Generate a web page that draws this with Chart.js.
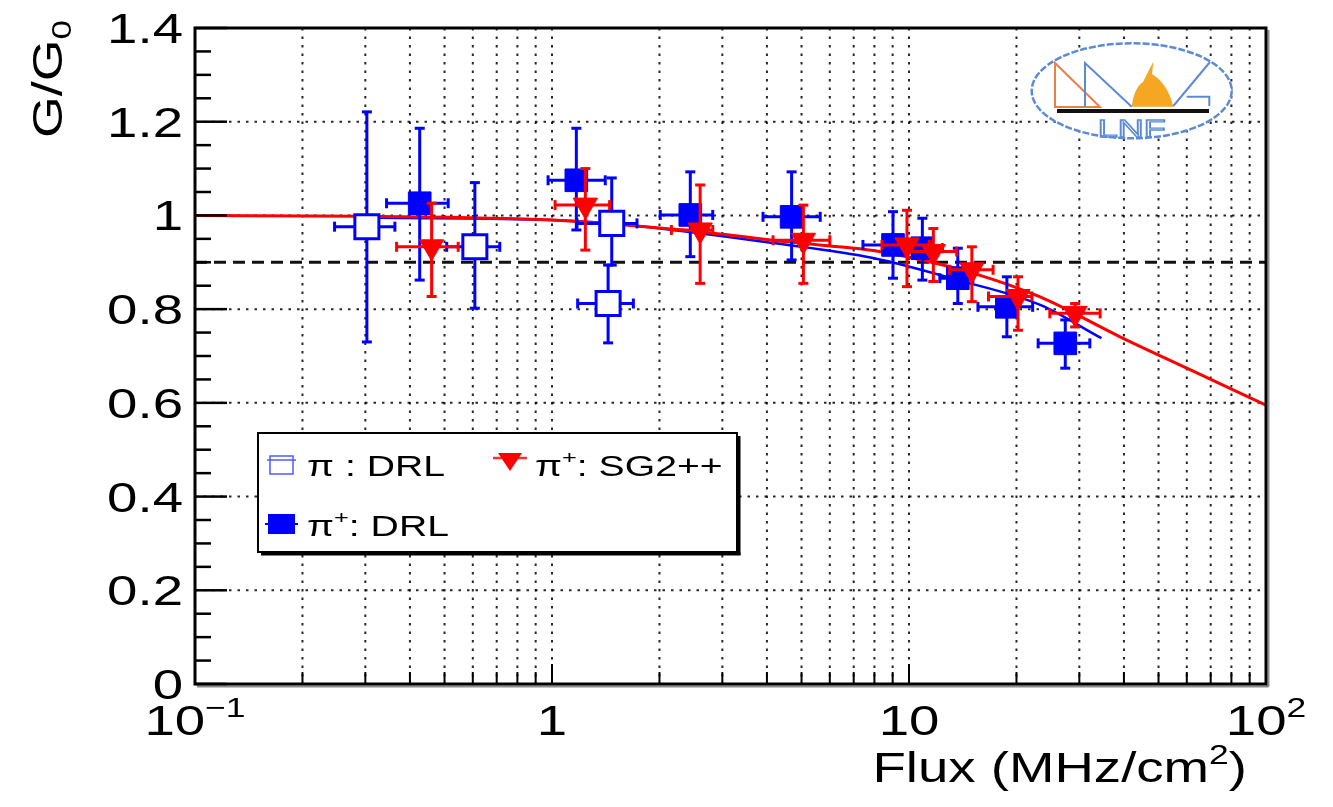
<!DOCTYPE html>
<html><head><meta charset="utf-8">
<script src="https://cdn.jsdelivr.net/npm/chart.js@4.4.1/dist/chart.umd.min.js"></script>
<style>html,body{margin:0;padding:0;background:#fff;}canvas{display:block;}</style>
</head><body>
<canvas id="c" width="1333" height="807"></canvas>
<script>
// ---- data ----
const openX   = [0.303, 0.608, 1.47, 1.436];
const openY   = [0.976, 0.933, 0.983, 0.812];
const openYlo = [0.730, 0.802, 0.894, 0.728];
const openYhi = [1.221, 1.070, 1.080, 0.894];
const openXlo = [0.246, 0.507, 1.175, 1.18];
const openXhi = [0.363, 0.714, 1.73, 1.69];

const filledX   = [0.426, 1.17, 2.44, 4.69, 9.02, 10.9, 13.7, 18.8, 27.4];
const filledY   = [1.026, 1.075, 1.001, 0.997, 0.937, 0.930, 0.866, 0.805, 0.727];
const filledYlo = [0.862, 0.969, 0.912, 0.905, 0.866, 0.862, 0.812, 0.741, 0.674];
const filledYhi = [1.186, 1.186, 1.093, 1.093, 1.008, 0.994, 0.930, 0.869, 0.777];
const filledXlo = [0.344, 0.975, 2.01, 3.90, 7.43, 9.6, 12.2, 15.6, 23.0];
const filledXhi = [0.512, 1.41, 2.82, 5.64, 11.5, 12.4, 15.1, 22.2, 32.1];

const redX   = [0.46, 1.24, 2.6, 5.06, 9.87, 11.7, 15.0, 20.2, 29.2];
const redY   = [0.933, 1.022, 0.969, 0.947, 0.937, 0.923, 0.884, 0.827, 0.791];
const redYlo = [0.827, 0.926, 0.855, 0.855, 0.848, 0.859, 0.816, 0.755, 0.762];
const redYhi = [1.026, 1.100, 1.065, 1.022, 1.011, 0.972, 0.933, 0.869, 0.812];
const redXlo = [0.367, 1.02, 2.16, 4.16, 8.4, 9.87, 13.0, 16.7, 24.8];
const redXhi = [0.546, 1.45, 2.82, 6.0, 11.4, 13.6, 17.2, 22.1, 34.3];

const fitRedX = [0.1, 0.3, 1, 1.76, 3, 4.16, 6, 7.93, 9.86, 15.1, 23.3, 39, 60, 100];
const fitRedY = [1.0, 0.998, 0.99, 0.977, 0.96, 0.947, 0.935, 0.925, 0.912, 0.877, 0.826, 0.741, 0.674, 0.595];
const fitBlueX = [0.33, 1, 1.76, 4.16, 7.93, 13.7, 23.3, 34.6];
const fitBlueY = [0.995, 0.99, 0.977, 0.941, 0.909, 0.862, 0.809, 0.738];

const threshX = [0.1, 100];
const threshY = [0.9, 0.9];

const yTicks = [0, 0.2, 0.4, 0.6, 0.8, 1, 1.2, 1.4];
const yTickLabels = ['0', '0.2', '0.4', '0.6', '0.8', '1', '1.2', '1.4'];
const xTicks = [0.1, 1, 10, 100];
const xTickLabels = [['10', '\u22121'], ['1', ''], ['10', ''], ['10', '2']];
const xTitle = [{t:'Flux (MHz/cm'}, {t:'2', sup:true}, {t:')'}];
const yTitle = [{t:'G/G'}, {t:'0', sub:true}];
const legendItems = [
  [{t:'\u03c0 : DRL'}],
  [{t:'\u03c0'}, {t:'+', sup:true}, {t:': SG2++'}],
  [{t:'\u03c0'}, {t:'+', sup:true}, {t:': DRL'}]
];

// ---- helpers ----
const FONT = '"Liberation Sans", Arial, Helvetica, sans-serif';
const SX = 1.3;
function richWidth(ctx, pieces, size, sx) {
  let w = 0;
  for (const p of pieces) {
    const s = (p.sup || p.sub) ? size * 0.65 : size;
    ctx.font = s + 'px ' + FONT;
    w += ctx.measureText(p.t).width * sx;
  }
  return w;
}
function drawRich(ctx, pieces, x, y, size, align, sx) {
  sx = sx || SX;
  const w = richWidth(ctx, pieces, size, sx);
  let cx = x;
  if (align === 'right') cx = x - w; else if (align === 'center') cx = x - w / 2;
  for (const p of pieces) {
    const s = (p.sup || p.sub) ? size * 0.65 : size;
    const dy = p.sup ? -size * 0.42 : (p.sub ? size * 0.22 : 0);
    ctx.font = s + 'px ' + FONT;
    ctx.save();
    ctx.translate(cx, y + dy);
    ctx.scale(sx, 1);
    ctx.textAlign = 'left';
    ctx.textBaseline = 'alphabetic';
    ctx.fillText(p.t, 0, 0);
    ctx.restore();
    cx += ctx.measureText(p.t).width * sx;
  }
  return w;
}
function seg(ctx, x1, y1, x2, y2) { ctx.beginPath(); ctx.moveTo(x1, y1); ctx.lineTo(x2, y2); ctx.stroke(); }

const errBars = {
  3: {xs: openX, ys: openY, ylo: openYlo, yhi: openYhi, xlo: openXlo, xhi: openXhi, color: '#0000ff', w: 3},
  4: {xs: filledX, ys: filledY, ylo: filledYlo, yhi: filledYhi, xlo: filledXlo, xhi: filledXhi, color: '#0000ff', w: 3},
  5: {xs: redX, ys: redY, ylo: redYlo, yhi: redYhi, xlo: redXlo, xhi: redXhi, color: '#ff0000', w: 3}
};

const decor = {
  id: 'decor',
  beforeDatasetsDraw(chart) {
    const ctx = chart.ctx, xs = chart.scales.x, ys = chart.scales.y, a = chart.chartArea;
    ctx.save();
    // grid
    ctx.strokeStyle = 'rgba(0,0,0,0.85)';
    ctx.lineWidth = 2;
    ctx.setLineDash([2.5, 6]);
    for (let d = -1; d < 2; d++) {
      for (let m = 1; m < 10; m++) {
        const v = m * Math.pow(10, d);
        if (v <= 0.1 + 1e-9) continue;
        const px = xs.getPixelForValue(v);
        seg(ctx, px, a.top, px, a.bottom);
      }
    }
    for (const v of yTicks) {
      if (v <= 0 || v >= 1.4) continue;
      const py = ys.getPixelForValue(v);
      seg(ctx, a.left, py, a.right, py);
    }
    ctx.setLineDash([]);
    // logo
    const cx = 1131.7, cy = 90.8;
    ctx.fillStyle = '#fff';
    ctx.strokeStyle = '#5b8bd6';
    ctx.lineWidth = 2.5;
    ctx.setLineDash([7, 2]);
    ctx.beginPath(); ctx.ellipse(cx, cy, 100, 47.5, 0, 0, Math.PI * 2); ctx.fill(); ctx.stroke();
    ctx.setLineDash([]);
    ctx.strokeStyle = '#e8804a'; ctx.lineWidth = 2;
    ctx.beginPath(); ctx.moveTo(1055, 63); ctx.lineTo(1055, 107); ctx.lineTo(1100, 107); ctx.closePath(); ctx.stroke();
    ctx.fillStyle = '#f5a623';
    ctx.beginPath();
    ctx.moveTo(1131.7, 106.7);
    ctx.quadraticCurveTo(1134, 88, 1143, 82);
    ctx.lineTo(1150, 68); ctx.lineTo(1153.3, 61.7); ctx.lineTo(1152, 74);
    ctx.quadraticCurveTo(1168, 84, 1173.3, 106.7);
    ctx.closePath(); ctx.fill();
    ctx.strokeStyle = '#5b8bd6'; ctx.lineWidth = 2;
    ctx.beginPath(); ctx.moveTo(1085, 107); ctx.lineTo(1085, 63); ctx.lineTo(1131.7, 106.7); ctx.stroke();
    ctx.beginPath(); ctx.moveTo(1173.3, 106); ctx.lineTo(1210, 62); ctx.stroke();
    ctx.beginPath(); ctx.moveTo(1186.7, 96.7); ctx.lineTo(1209.3, 96.7); ctx.lineTo(1209.3, 106); ctx.stroke();
    ctx.strokeStyle = '#111'; ctx.lineWidth = 4;
    seg(ctx, 1057, 111, 1209, 111);
    ctx.strokeStyle = '#5b8bd6'; ctx.lineWidth = 1.3;
    ctx.font = '24px ' + FONT; ctx.textAlign = 'center'; ctx.textBaseline = 'alphabetic';
    ctx.save(); ctx.translate(1131.7, 137); ctx.scale(1.5, 1); ctx.strokeText('LNF', 0, 0); ctx.restore();
    ctx.restore();
  },
  beforeDatasetDraw(chart, args) {
    const e = errBars[args.index];
    if (!e) return;
    const ctx = chart.ctx, xs = chart.scales.x, ys = chart.scales.y;
    ctx.save();
    ctx.strokeStyle = e.color; ctx.lineWidth = e.w; ctx.lineCap = 'butt';
    const cap = 5;
    for (let i = 0; i < e.xs.length; i++) {
      const px = xs.getPixelForValue(e.xs[i]), py = ys.getPixelForValue(e.ys[i]);
      const yl = ys.getPixelForValue(e.ylo[i]), yh = ys.getPixelForValue(e.yhi[i]);
      const xl = xs.getPixelForValue(e.xlo[i]), xh = xs.getPixelForValue(e.xhi[i]);
      seg(ctx, px, yl, px, yh);
      seg(ctx, xl, py, xh, py);
      seg(ctx, px - cap, yl, px + cap, yl);
      seg(ctx, px - cap, yh, px + cap, yh);
      seg(ctx, xl, py - cap, xl, py + cap);
      seg(ctx, xh, py - cap, xh, py + cap);
    }
    ctx.restore();
  },
  afterDatasetsDraw(chart) {
    const ctx = chart.ctx, xs = chart.scales.x, ys = chart.scales.y, a = chart.chartArea;
    ctx.save();
    ctx.fillStyle = '#000'; ctx.strokeStyle = '#000';
    // frame
    ctx.lineWidth = 3;
    ctx.strokeRect(a.left, a.top, a.right - a.left, a.bottom - a.top);
    ctx.strokeStyle = 'rgba(0,0,0,0.45)'; ctx.lineWidth = 2;
    seg(ctx, a.right + 2.5, a.top + 2, a.right + 2.5, a.bottom + 2.5);
    seg(ctx, a.left + 2, a.bottom + 2.5, a.right + 2.5, a.bottom + 2.5);
    ctx.strokeStyle = '#000';
    // y ticks
    ctx.lineWidth = 2.5;
    for (let i = 0; i <= 28; i++) {
      const v = i * 0.05;
      const py = ys.getPixelForValue(v);
      const len = (i % 4 === 0) ? 32 : 16;
      seg(ctx, a.left, py, a.left + len, py);
    }
    // x ticks
    ctx.lineWidth = 2;
    for (let d = -1; d < 2; d++) {
      for (let m = 1; m < 10; m++) {
        const v = m * Math.pow(10, d);
        if (v <= 0.1 + 1e-9) continue;
        const px = xs.getPixelForValue(v);
        const len = (m === 1) ? 20 : 12;
        seg(ctx, px, a.bottom, px, a.bottom - len);
      }
    }
    // y tick labels
    for (let i = 0; i < yTicks.length; i++) {
      const py = ys.getPixelForValue(yTicks[i]);
      drawRich(ctx, [{t: yTickLabels[i]}], a.left - 12, py + 15, 42, 'right');
    }
    // x tick labels
    for (let i = 0; i < xTicks.length; i++) {
      const px = xs.getPixelForValue(xTicks[i]);
      const pieces = [{t: xTickLabels[i][0]}];
      if (xTickLabels[i][1]) pieces.push({t: xTickLabels[i][1], sup: true});
      drawRich(ctx, pieces, px, 735, 42, 'center');
    }
    // axis titles
    drawRich(ctx, xTitle, 1247, 782, 42, 'right');
    ctx.save();
    ctx.translate(62, 20);
    ctx.rotate(-Math.PI / 2);
    drawRich(ctx, yTitle, 0, 0, 42, 'right', 1.28);
    ctx.restore();
    // legend
    const L = 258, T = 433, R = 737, B = 552;
    ctx.fillStyle = '#fff';
    ctx.fillRect(L, T, R - L, B - T);
    ctx.strokeStyle = '#000'; ctx.lineWidth = 2;
    ctx.strokeRect(L, T, R - L, B - T);
    ctx.lineWidth = 3;
    seg(ctx, R + 2, T + 3, R + 2, B + 3);
    seg(ctx, L + 3, B + 2, R + 3.5, B + 2);
    // icons
    ctx.strokeStyle = '#4a5cff'; ctx.lineWidth = 1.5;
    seg(ctx, 267, 460, 296, 460);
    ctx.strokeRect(270, 456, 23, 18);
    ctx.fillStyle = '#0000ff'; ctx.strokeStyle = '#0000ff'; ctx.lineWidth = 2;
    seg(ctx, 265, 524, 298, 524);
    ctx.fillRect(268, 514, 27, 20);
    ctx.strokeStyle = '#ff3030'; ctx.lineWidth = 2.5;
    seg(ctx, 493, 458, 527, 458);
    ctx.fillStyle = '#ff0000';
    ctx.beginPath(); ctx.moveTo(498, 453); ctx.lineTo(522, 453); ctx.lineTo(510, 471); ctx.closePath(); ctx.fill();
    ctx.fillStyle = '#000';
    drawRich(ctx, legendItems[0], 307, 476, 29, 'left', 1.35);
    drawRich(ctx, legendItems[1], 535, 476, 29, 'left', 1.35);
    drawRich(ctx, legendItems[2], 307, 536, 29, 'left', 1.35);
    ctx.restore();
  }
};

const pts = (xa, ya) => xa.map((x, i) => ({x: x, y: ya[i]}));

new Chart(document.getElementById('c'), {
  type: 'scatter',
  data: {
    datasets: [
      {label: 'fit SG2++', data: pts(fitRedX, fitRedY), showLine: true, borderColor: '#ff0000', borderWidth: 3,
       pointRadius: 0, cubicInterpolationMode: 'monotone', order: 5},
      {label: 'fit DRL', data: pts(fitBlueX, fitBlueY), showLine: true, borderColor: '#0000ff', borderWidth: 2.5,
       pointRadius: 0, cubicInterpolationMode: 'monotone', order: 6},
      {label: 'threshold', data: pts(threshX, threshY), showLine: true, borderColor: '#111', borderWidth: 3,
       borderDash: [12, 7], pointRadius: 0, order: 7},
      {label: '\u03c0 : DRL', data: pts(openX, openY), pointStyle: 'rect', pointRadius: 17, pointBorderWidth: 3,
       backgroundColor: '#ffffff', borderColor: '#0000ff', order: 3},
      {label: '\u03c0+: DRL', data: pts(filledX, filledY), pointStyle: 'rect', pointRadius: 16, pointBorderWidth: 1,
       backgroundColor: '#0000ff', borderColor: '#0000ff', order: 2},
      {label: '\u03c0+: SG2++', data: pts(redX, redY), pointStyle: 'triangle', rotation: 180, pointRadius: 14,
       pointBorderWidth: 1, backgroundColor: '#ff0000', borderColor: '#ff0000', order: 1}
    ]
  },
  options: {
    responsive: false,
    animation: false,
    events: [],
    layout: {padding: {left: 195, right: 67, top: 28, bottom: 123}},
    scales: {
      x: {type: 'logarithmic', min: 0.1, max: 100, display: false},
      y: {type: 'linear', min: 0, max: 1.4, display: false}
    },
    plugins: {legend: {display: false}, tooltip: {enabled: false}}
  },
  plugins: [decor]
});
</script>
</body></html>
